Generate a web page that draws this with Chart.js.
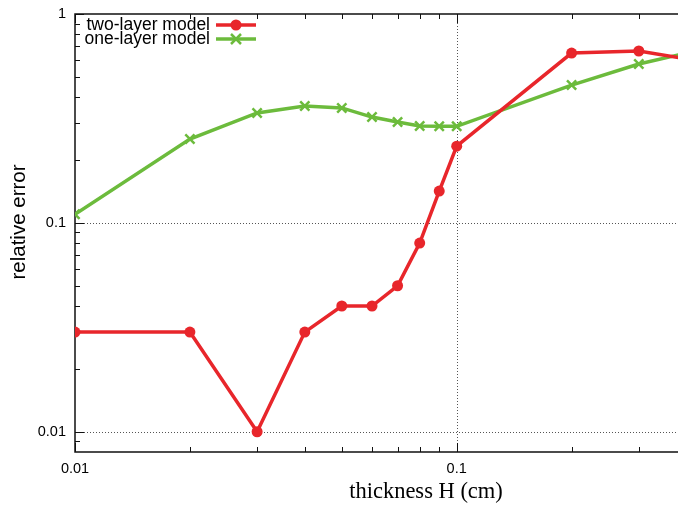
<!DOCTYPE html>
<html>
<head>
<meta charset="utf-8">
<script src="https://cdn.jsdelivr.net/npm/chart.js@4"></script>
<style>
  html, body { margin: 0; padding: 0; background: #fff; }
  #wrap { width: 678px; height: 506px; }
</style>
</head>
<body>
<div id="wrap"><canvas id="chart"></canvas></div>
<script>
// data
const thickness = [0.01, 0.02, 0.03, 0.04, 0.05, 0.06, 0.07, 0.08, 0.09, 0.1, 0.2, 0.3, 0.4];
const twoLayer = [0.03, 0.03, 0.01, 0.03, 0.04, 0.04, 0.05, 0.08, 0.142, 0.233, 0.65, 0.665, 0.61];
const oneLayer = [0.11, 0.252, 0.336, 0.363, 0.355, 0.321, 0.304, 0.291, 0.29, 0.29, 0.457, 0.576, 0.65];

const xTicks = [0.01, 0.02, 0.03, 0.04, 0.05, 0.06, 0.07, 0.08, 0.09, 0.1, 0.2, 0.3];
const yTicks = [0.009, 0.01, 0.02, 0.03, 0.04, 0.05, 0.06, 0.07, 0.08, 0.09,
                0.1, 0.2, 0.3, 0.4, 0.5, 0.6, 0.7, 0.8, 0.9, 1];
const xLabels = [0.01, 0.1];
const yLabels = [0.01, 0.1, 1];

const RED = "#e8262b";
const GREEN = "#6cbb3c";
const sans = "'Liberation Sans', Arial, sans-serif";

function pts(ys) {
  return thickness.map((x, i) => ({ x: x, y: ys[i] }));
}

// gnuplot-ish frame: dotted major grid, inward ticks, box (right side runs off the picture)
const frame = {
  id: "frame",
  beforeDatasetsDraw(chart) {
    const ctx = chart.ctx;
    const ca = chart.chartArea;
    const sx = chart.scales.x;
    const sy = chart.scales.y;
    ctx.save();
    ctx.strokeStyle = "#555";
    ctx.lineWidth = 1;
    ctx.setLineDash([1, 2]);
    xLabels.forEach(v => {
      const px = Math.round(sx.getPixelForValue(v)) + 0.5;
      if (px <= ca.left + 1) return;
      ctx.beginPath(); ctx.moveTo(px, ca.top); ctx.lineTo(px, ca.bottom); ctx.stroke();
    });
    yLabels.forEach(v => {
      const py = Math.round(sy.getPixelForValue(v)) + 0.5;
      if (py <= ca.top + 1) return;
      ctx.beginPath(); ctx.moveTo(ca.left, py); ctx.lineTo(ca.right, py); ctx.stroke();
    });
    ctx.setLineDash([]);
    ctx.strokeStyle = "#111";
    xTicks.forEach(v => {
      const px = Math.round(sx.getPixelForValue(v)) + 0.5;
      const len = xLabels.includes(v) ? 9 : 5;
      ctx.beginPath();
      ctx.moveTo(px, ca.bottom); ctx.lineTo(px, ca.bottom - len);
      ctx.moveTo(px, ca.top); ctx.lineTo(px, ca.top + len);
      ctx.stroke();
    });
    yTicks.forEach(v => {
      const py = Math.round(sy.getPixelForValue(v)) + 0.5;
      const len = yLabels.includes(v) ? 9 : 5;
      ctx.beginPath();
      ctx.moveTo(ca.left, py); ctx.lineTo(ca.left + len, py);
      ctx.stroke();
    });
    ctx.lineWidth = 1.5;
    ctx.beginPath();
    ctx.moveTo(ca.right + 2, ca.top); ctx.lineTo(ca.left, ca.top);
    ctx.lineTo(ca.left, ca.bottom); ctx.lineTo(ca.right + 2, ca.bottom);
    ctx.stroke();
    ctx.restore();
  },
  afterDraw(chart) {
    const ctx = chart.ctx;
    ctx.save();
    // axis titles
    ctx.fillStyle = "#000";
    ctx.textBaseline = "middle";
    ctx.textAlign = "center";
    ctx.font = "22.5px 'Liberation Serif', 'DejaVu Serif', serif";
    ctx.fillText("thickness H (cm)", 426, 492);
    ctx.translate(19, 222);
    ctx.rotate(-Math.PI / 2);
    ctx.font = "20.5px " + sans;
    ctx.fillText("relative error", 0, 0);
    ctx.restore();

    // legend, gnuplot style: text then sample
    ctx.save();
    ctx.font = "17.5px " + sans;
    ctx.textAlign = "right";
    ctx.textBaseline = "middle";
    chart.data.datasets.forEach((ds, i) => {
      const y = 25 + 14 * i;
      ctx.fillStyle = "#000";
      ctx.fillText(ds.label, 210, y);
      ctx.strokeStyle = ds.borderColor;
      ctx.lineWidth = 3.5;
      ctx.beginPath(); ctx.moveTo(216, y); ctx.lineTo(256, y); ctx.stroke();
      if (ds.pointStyle === "circle") {
        ctx.fillStyle = ds.borderColor;
        ctx.beginPath(); ctx.arc(236, y, 5.5, 0, Math.PI * 2); ctx.fill();
      } else {
        ctx.lineWidth = 2.5;
        ctx.beginPath();
        ctx.moveTo(231, y - 5); ctx.lineTo(241, y + 5);
        ctx.moveTo(241, y - 5); ctx.lineTo(231, y + 5);
        ctx.stroke();
      }
    });
    ctx.restore();
  }
};

new Chart(document.getElementById("chart"), {
  type: "line",
  data: {
    datasets: [
      {
        label: "two-layer model",
        data: pts(twoLayer),
        borderColor: RED,
        backgroundColor: RED,
        borderWidth: 3.5,
        pointStyle: "circle",
        pointRadius: 5.5,
        pointBorderWidth: 0,
        tension: 0,
      },
      {
        label: "one-layer model",
        data: pts(oneLayer),
        borderColor: GREEN,
        backgroundColor: GREEN,
        borderWidth: 3.5,
        pointStyle: "crossRot",
        pointRadius: 6.5,
        pointBorderWidth: 2.5,
        tension: 0,
      },
    ],
  },
  plugins: [frame],
  options: {
    responsive: true,
    maintainAspectRatio: false,
    animation: false,
    layout: { autoPadding: false, padding: { top: 14, right: 0, left: 0, bottom: 0 } },
    plugins: { legend: { display: false }, tooltip: { enabled: false } },
    scales: {
      x: {
        type: "logarithmic",
        min: 0.01,
        max: 0.38,
        afterBuildTicks: s => { s.ticks = xTicks.map(v => ({ value: v })); },
        afterFit: s => { s.height = 54; s.paddingRight = 0; s.paddingLeft = 0; },
        grid: { display: false, drawTicks: false },
        border: { display: false },
        ticks: {
          autoSkip: false,
          maxRotation: 0,
          padding: 8,
          color: "#000",
          font: { family: sans, size: 14.5 },
          callback: v => (xLabels.includes(v) ? String(v) : ""),
        },
      },
      y: {
        type: "logarithmic",
        min: 0.008,
        max: 1,
        afterBuildTicks: s => { s.ticks = yTicks.map(v => ({ value: v })); },
        afterFit: s => { s.width = 75; s.paddingTop = 0; s.paddingBottom = 0; },
        grid: { display: false, drawTicks: false },
        border: { display: false },
        ticks: {
          autoSkip: false,
          padding: 9,
          color: "#000",
          font: { family: sans, size: 14.5 },
          callback: v => (yLabels.includes(v) ? String(v) : ""),
        },
      },
    },
  },
});
</script>
</body>
</html>
